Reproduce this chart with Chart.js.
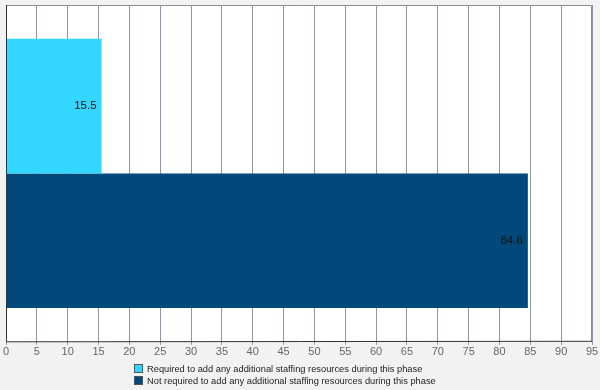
<!DOCTYPE html>
<html>
<head>
<meta charset="utf-8">
<script src="https://cdn.jsdelivr.net/npm/chart.js@4"></script>
<style>
  html, body { margin: 0; padding: 0; background: #f2f2f2; }
  #wrap { position: relative; width: 600px; height: 390px; }
  #legend { position: absolute; left: 134px; top: 363px; font: 9.3px Arial, "Liberation Sans", sans-serif; color: #222; }
  #legend div { height: 12px; line-height: 12px; white-space: nowrap; }
  #legend span { display: inline-block; width: 7px; height: 7px; border: 1px solid #555; margin-right: 4px; vertical-align: -1px; }
</style>
</head>
<body>
<div id="wrap">
  <canvas id="chart" width="600" height="390"></canvas>
  <div id="legend"></div>
</div>
<script>
const seriesLabels = [
  "Required to add any additional staffing resources during this phase",
  "Not required to add any additional staffing resources during this phase"
];
const seriesValues = [15.5, 84.6];
const seriesColors = ["#33d6ff", "#00497a"];
const xMax = 95;
const xStep = 5;

// white plot area plus gray frame
const plotBackground = {
  id: "plotBackground",
  beforeDraw(chart) {
    const { ctx, chartArea } = chart;
    ctx.save();
    ctx.fillStyle = "#ffffff";
    ctx.fillRect(chartArea.left, chartArea.top, chartArea.width, chartArea.height);
    ctx.restore();
  },
  afterDraw(chart) {
    const { ctx, chartArea } = chart;
    ctx.save();
    ctx.strokeStyle = "#8c8c8c";
    ctx.lineWidth = 1;
    ctx.beginPath();
    ctx.moveTo(chartArea.left, chartArea.top + 0.5);
    ctx.lineTo(chartArea.right - 0.5, chartArea.top + 0.5);
    ctx.lineTo(chartArea.right - 0.5, chartArea.bottom);
    ctx.stroke();
    ctx.strokeStyle = "#333333";
    ctx.beginPath();
    ctx.moveTo(chartArea.left + 0.5, chartArea.top);
    ctx.lineTo(chartArea.left + 0.5, chartArea.bottom);
    ctx.lineTo(chartArea.right, chartArea.bottom - 0.5);
    ctx.stroke();
    ctx.restore();
  }
};

// value labels at the inner end of each bar
const valueLabels = {
  id: "valueLabels",
  afterDatasetsDraw(chart) {
    const { ctx } = chart;
    ctx.save();
    ctx.font = "11.5px Arial, 'Liberation Sans', sans-serif";
    ctx.fillStyle = "#111111";
    ctx.textAlign = "right";
    ctx.textBaseline = "middle";
    chart.data.datasets.forEach((ds, i) => {
      chart.getDatasetMeta(i).data.forEach((bar, j) => {
        ctx.fillText(String(ds.data[j]), bar.x - 5, bar.y);
      });
    });
    ctx.restore();
  }
};

const datasets = seriesLabels.map((label, i) => ({
  label,
  data: [seriesValues[i]],
  backgroundColor: seriesColors[i],
  borderWidth: 0,
  categoryPercentage: 0.8,
  barPercentage: 1.0
}));

new Chart(document.getElementById("chart"), {
  type: "bar",
  data: { labels: [""], datasets },
  options: {
    indexAxis: "y",
    responsive: false,
    animation: false,
    layout: { padding: { left: 6, right: 8, top: 5, bottom: 30 } },
    plugins: { legend: { display: false }, tooltip: { enabled: false } },
    scales: {
      x: {
        min: 0,
        max: xMax,
        ticks: {
          stepSize: xStep,
          color: "#666666",
          font: { family: "Arial, 'Liberation Sans', sans-serif", size: 11 },
          padding: 1
        },
        grid: { color: "#8499ad", tickLength: 3, drawTicks: true },
        border: { display: false }
      },
      y: {
        display: true,
        ticks: { display: false },
        grid: { display: false, drawTicks: false },
        border: { display: false }
      }
    }
  },
  plugins: [plotBackground, valueLabels]
});

const legend = document.getElementById("legend");
seriesLabels.forEach((label, i) => {
  const row = document.createElement("div");
  const box = document.createElement("span");
  box.style.background = seriesColors[i];
  row.appendChild(box);
  row.appendChild(document.createTextNode(label));
  legend.appendChild(row);
});
</script>
</body>
</html>
